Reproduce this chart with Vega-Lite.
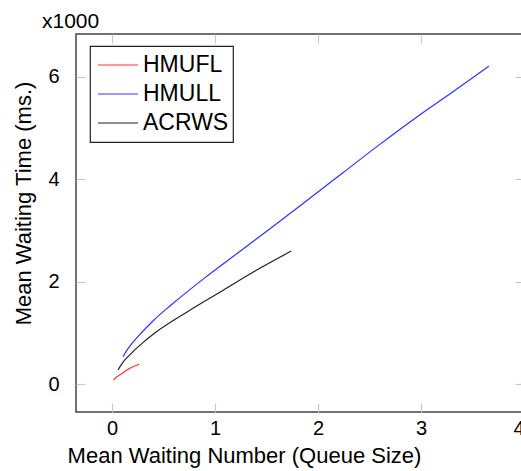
{
  "$schema": "https://vega.github.io/schema/vega-lite/v6.json",
  "width": 448,
  "height": 378,
  "autosize": {"type": "none"},
  "padding": {"left": 76, "top": 34, "right": 0, "bottom": 59},
  "background": "white",
  "title": {
    "text": "x1000",
    "anchor": "start",
    "frame": "group",
    "orient": "top",
    "dx": -34,
    "offset": -16,
    "baseline": "alphabetic",
    "font": "Liberation Sans",
    "fontSize": 21,
    "fontWeight": "normal",
    "color": "black"
  },
  "data": {
    "values": [
      {"series": "HMUFL", "x": 0.016, "y": 84},
      {"series": "HMUFL", "x": 0.05, "y": 150},
      {"series": "HMUFL", "x": 0.09, "y": 200},
      {"series": "HMUFL", "x": 0.13, "y": 258},
      {"series": "HMUFL", "x": 0.171, "y": 310},
      {"series": "HMUFL", "x": 0.22, "y": 356},
      {"series": "HMUFL", "x": 0.267, "y": 396},
      {"series": "HMULL", "x": 0.106, "y": 538},
      {"series": "HMULL", "x": 0.15, "y": 680},
      {"series": "HMULL", "x": 0.251, "y": 928},
      {"series": "HMULL", "x": 0.4, "y": 1240},
      {"series": "HMULL", "x": 0.573, "y": 1546},
      {"series": "HMULL", "x": 0.894, "y": 2066},
      {"series": "HMULL", "x": 1.215, "y": 2553},
      {"series": "HMULL", "x": 1.537, "y": 3040},
      {"series": "HMULL", "x": 1.858, "y": 3530},
      {"series": "HMULL", "x": 2.244, "y": 4130},
      {"series": "HMULL", "x": 2.6, "y": 4680},
      {"series": "HMULL", "x": 2.95, "y": 5200},
      {"series": "HMULL", "x": 3.3, "y": 5690},
      {"series": "HMULL", "x": 3.659, "y": 6205},
      {"series": "ACRWS", "x": 0.058, "y": 279},
      {"series": "ACRWS", "x": 0.1, "y": 413},
      {"series": "ACRWS", "x": 0.187, "y": 604},
      {"series": "ACRWS", "x": 0.3, "y": 813},
      {"series": "ACRWS", "x": 0.412, "y": 994},
      {"series": "ACRWS", "x": 0.733, "y": 1415},
      {"series": "ACRWS", "x": 1.055, "y": 1805},
      {"series": "ACRWS", "x": 1.376, "y": 2195},
      {"series": "ACRWS", "x": 1.74, "y": 2598}
    ]
  },
  "encoding": {
    "color": {
      "field": "series",
      "type": "nominal",
      "scale": {
        "domain": ["HMUFL", "HMULL", "ACRWS"],
        "range": ["#ff3030", "#3030ff", "#222222"]
      },
      "legend": {
        "title": null,
        "orient": "none",
        "legendX": 14,
        "legendY": 12,
        "symbolType": "stroke",
        "symbolSize": 1600,
        "symbolStrokeWidth": 1.2,
        "symbolOffset": 2.25,
        "clipHeight": 28.5,
        "labelFontSize": 23,
        "labelFont": "Liberation Sans",
        "labelColor": "black",
        "labelOffset": 4,
        "rowPadding": 0,
        "padding": 4.75,
        "strokeColor": "#222",
        "fillColor": "white"
      }
    }
  },
  "layer": [
    {
      "mark": {"type": "line", "strokeWidth": 1.2, "interpolate": "monotone"},
      "encoding": {
        "x": {
          "field": "x",
          "type": "quantitative",
          "scale": {"domain": [-0.35, 4], "nice": false, "zero": false},
          "axis": {
            "title": "Mean Waiting Number (Queue Size)",
            "values": [0, 1, 2, 3, 4],
            "format": "d",
            "labelFlush": true,
            "tickSize": -9,
            "labelPadding": 15,
            "titleX": 168,
            "titleY": 50,
            "titleAlign": "center",
            "titleBaseline": "alphabetic"
          }
        },
        "y": {
          "field": "y",
          "type": "quantitative",
          "scale": {"domain": [-541, 6833], "nice": false, "zero": false},
          "axis": {
            "title": "Mean Waiting Time (ms.)",
            "values": [0, 2000, 4000, 6000],
            "labelExpr": "format(datum.value / 1000, 'd')",
            "tickSize": -9,
            "labelPadding": 26,
            "titleX": -46,
            "titleY": 169,
            "titleAngle": -90,
            "titleAlign": "center",
            "titleBaseline": "alphabetic"
          }
        }
      }
    },
    {
      "mark": {"type": "line", "opacity": 0},
      "encoding": {
        "x": {
          "field": "x",
          "type": "quantitative",
          "scale": {"domain": [-0.35, 4], "nice": false, "zero": false},
          "axis": {
            "orient": "top",
            "title": null,
            "labels": false,
            "values": [0, 1, 2, 3, 4],
            "tickSize": -9
          }
        },
        "y": {
          "field": "y",
          "type": "quantitative",
          "scale": {"domain": [-541, 6833], "nice": false, "zero": false},
          "axis": {
            "orient": "right",
            "title": null,
            "labels": false,
            "values": [0, 2000, 4000, 6000],
            "tickSize": -9
          }
        }
      }
    }
  ],
  "resolve": {"axis": {"x": "independent", "y": "independent"}},
  "config": {
    "view": {"stroke": "#444", "strokeWidth": 1.5},
    "axis": {
      "grid": false,
      "domain": false,
      "tickColor": "#c8c8c8",
      "tickWidth": 1.2,
      "labelFont": "Liberation Sans",
      "labelFontSize": 20,
      "labelColor": "black",
      "titleFont": "Liberation Sans",
      "titleFontSize": 22,
      "titleFontWeight": "normal",
      "titleColor": "black"
    },
    "legend": {"strokeWidth": 1.2}
  }
}
